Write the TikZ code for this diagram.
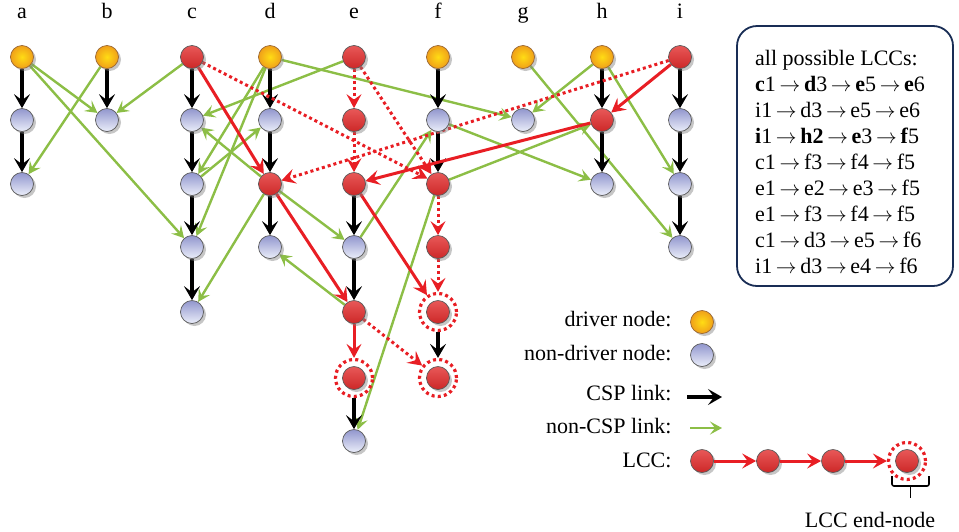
\documentclass[tikz,border=0pt]{standalone}
\usepackage{fontspec}
\setmainfont{Liberation Serif}
\usepackage{tikz}
\usetikzlibrary{arrows.meta,shapes,positioning,shadows,backgrounds}
\usepackage{xcolor}
\definecolor{lccred}{RGB}{232,30,36}
\definecolor{linkgreen}{RGB}{140,190,70}
\definecolor{boxnavy}{RGB}{25,45,85}
\definecolor{drvyellow}{RGB}{255,220,20}
\definecolor{drvorange}{RGB}{240,160,25}
\definecolor{plaintop}{RGB}{145,150,205}
\definecolor{plainbot}{RGB}{235,238,250}
\definecolor{lcctop}{RGB}{232,88,88}
\definecolor{lccbot}{RGB}{205,40,40}
\tikzstyle{bead} = [circle, minimum size=23pt, inner sep=0pt, draw=black!65, line width=0.7pt,
  drop shadow={shadow xshift=2.5pt, shadow yshift=-2.5pt, opacity=0.45}]
\tikzstyle{drivernode} = [bead, draw=brown!80!black, inner color=drvyellow, outer color=drvorange]
\tikzstyle{plainnode} = [bead, top color=plaintop, bottom color=plainbot]
\tikzstyle{lccnode} = [bead, top color=lcctop, bottom color=lccbot]
\tikzstyle{endring} = [circle, minimum size=37pt, inner sep=0pt, draw=lccred, line width=3.2pt, dash pattern=on 3pt off 3.2pt]
\tikzstyle{csp} = [line width=3.4pt, black, -{Stealth[length=14pt,width=16pt,inset=6pt]}]
\tikzstyle{noncsp} = [line width=2.4pt, linkgreen, -{Stealth[length=12pt,width=13pt,inset=5pt]}]
\tikzstyle{lcc} = [line width=3pt, lccred, -{Stealth[length=14pt,width=15pt,inset=5.5pt]}]
\tikzstyle{lccdots} = [lcc, dash pattern=on 3pt off 3pt]
\tikzstyle{lccbox} = [draw=boxnavy, line width=1.8pt, rounded corners=20pt, minimum width=216pt, minimum height=260pt]
\newcommand{\lto}{\,$\rightarrow$\,}

\begin{document}
\begin{tikzpicture}[x=1pt, y=-1pt, font=\fontsize{22}{26}\selectfont]
\useasboundingbox (0,0) rectangle (959,531);

% Column labels
\node[anchor=base] (la) at (22,18) {a};
\node[anchor=base] (lb) at (107,18) {b};
\node[anchor=base] (lc) at (192,18) {c};
\node[anchor=base] (ld) at (270,18) {d};
\node[anchor=base] (le) at (354,18) {e};
\node[anchor=base] (lf) at (438,18) {f};
\node[anchor=base] (lg) at (523,18) {g};
\node[anchor=base] (lh) at (602,18) {h};
\node[anchor=base] (li) at (680,18) {i};

% Driver nodes
\node[drivernode] (a1) at (22,57) {};
\node[drivernode] (b1) at (107,57) {};
\node[drivernode] (d1) at (270,57) {};
\node[drivernode] (f1) at (438,57) {};
\node[drivernode] (g1) at (523,57) {};
\node[drivernode] (h1) at (602,57) {};

% Nodes on LCCs
\node[lccnode] (c1) at (192,57) {};
\node[lccnode] (e1) at (354,57) {};
\node[lccnode] (i1) at (680,57) {};
\node[lccnode] (e2) at (354,120) {};
\node[lccnode] (h2) at (602,120) {};
\node[lccnode] (d3) at (270,184) {};
\node[lccnode] (e3) at (354,184) {};
\node[lccnode] (f3) at (438,184) {};
\node[lccnode] (f4) at (438,247) {};
\node[lccnode] (e5) at (354,312) {};
\node[lccnode] (f5) at (438,312) {};
\node[lccnode] (e6) at (354,378) {};
\node[lccnode] (f6) at (438,378) {};

% End-nodes
\node[endring] (e6r) at (e6) {};
\node[endring] (f5r) at (f5) {};
\node[endring] (f6r) at (f6) {};

% Non-driver nodes
\node[plainnode] (a2) at (22,120) {};
\node[plainnode] (a3) at (22,184) {};
\node[plainnode] (b2) at (107,120) {};
\node[plainnode] (c2) at (192,120) {};
\node[plainnode] (c3) at (192,184) {};
\node[plainnode] (c4) at (192,247) {};
\node[plainnode] (c5) at (192,312) {};
\node[plainnode] (d2) at (270,120) {};
\node[plainnode] (d4) at (270,247) {};
\node[plainnode] (e4) at (354,247) {};
\node[plainnode] (e7) at (354,441) {};
\node[plainnode] (f2) at (438,120) {};
\node[plainnode] (g2) at (523,120) {};
\node[plainnode] (h3) at (602,184) {};
\node[plainnode] (i2) at (680,120) {};
\node[plainnode] (i3) at (680,184) {};
\node[plainnode] (i4) at (680,247) {};

\begin{scope}[on background layer]
% non-CSP links
\draw[noncsp] (a1) -- (b2);
\draw[noncsp] (a1) -- (c4);
\draw[noncsp] (b1) -- (a3);
\draw[noncsp] (c1) -- (b2);
\draw[noncsp] (e1) -- (c2);
\draw[noncsp] (d1) -- (c3);
\draw[noncsp] (d1) -- (c4);
\draw[noncsp] (d1) -- (g2);
\draw[noncsp] (c3) -- (d2);
\draw[noncsp] (d3) -- (c2);
\draw[noncsp] (d3) -- (c5);
\draw[noncsp] (d3) -- (e4);
\draw[noncsp] (e5) -- (d4);
\draw[noncsp] (e4) -- (f2);
\draw[noncsp] (f2) -- (h3);
\draw[noncsp] (f3) -- (h2);
\draw[noncsp] (f3) -- (e7);
\draw[noncsp] (g1) -- (i4);
\draw[noncsp] (h1) -- (g2);
\draw[noncsp] (h1) -- (i3);

% CSP links
\draw[csp] (a1) -- (a2);
\draw[csp] (a2) -- (a3);
\draw[csp] (b1) -- (b2);
\draw[csp] (c1) -- (c2);
\draw[csp] (c2) -- (c3);
\draw[csp] (c3) -- (c4);
\draw[csp] (c4) -- (c5);
\draw[csp] (d1) -- (d2);
\draw[csp] (d2) -- (d3);
\draw[csp] (d3) -- (d4);
\draw[csp] (e3) -- (e4);
\draw[csp] (e4) -- (e5);
\draw[csp] (e6r) -- (e7);
\draw[csp] (f1) -- (f2);
\draw[csp] (f2) -- (f3);
\draw[csp] (f5r) -- (f6r);
\draw[csp] (h1) -- (h2);
\draw[csp] (h2) -- (h3);
\draw[csp] (i1) -- (i2);
\draw[csp] (i2) -- (i3);
\draw[csp] (i3) -- (i4);

% LCC links
\draw[lccdots] (c1) -- (f3);
\draw[lccdots] (e1) -- (f3);
\draw[lccdots] (e1) -- (e2);
\draw[lccdots] (e2) -- (e3);
\draw[lccdots] (f3) -- (f4);
\draw[lccdots] (f4) -- (f5r);
\draw[lccdots] (e5) -- (f6r);
\draw[lccdots] (i1) -- (d3);
\draw[lcc] (c1) -- (d3);
\draw[lcc] (d3) -- (e5);
\draw[lcc] (e5) -- (e6r);
\draw[lcc] (i1) -- (h2);
\draw[lcc] (h2) -- (e3);
\draw[lcc] (e3) -- (f5r);
\end{scope}

% List of LCCs
\node[lccbox] (lccs) at (845,156) {};
\node[anchor=north west, inner sep=0pt, align=left] (lcclist) at (755,50) {all possible LCCs:\\
\textbf{c}1\lto\textbf{d}3\lto\textbf{e}5\lto\textbf{e}6\\
i1\lto d3\lto e5\lto e6\\
\textbf{i}1\lto\textbf{h2}\lto\textbf{e}3\lto\textbf{f}5\\
c1\lto f3\lto f4\lto f5\\
e1\lto e2\lto e3\lto f5\\
e1\lto f3\lto f4\lto f5\\
c1\lto d3\lto e5\lto f6\\
i1\lto d3\lto e4\lto f6};

% Legend
\node[anchor=base east] (kdrivertxt) at (675,326) {driver node:};
\node[drivernode] (kdriver) at (702,322) {};
\node[anchor=base east] (kplaintxt) at (675,360) {non-driver node:};
\node[plainnode] (kplain) at (702,355) {};
\node[anchor=base east] (kcsptxt) at (675,400) {CSP link:};
\coordinate (kcspa) at (687,397);
\coordinate (kcspb) at (722,397);
\draw[csp] (kcspa) -- (kcspb);
\node[anchor=base east] (knoncsptxt) at (675,433) {non-CSP link:};
\coordinate (knoncspa) at (690,428);
\coordinate (knoncspb) at (722,428);
\draw[noncsp] (knoncspa) -- (knoncspb);
\node[anchor=base east] (klcctxt) at (675,467) {LCC:};
\node[lccnode] (kl1) at (702,461) {};
\node[lccnode] (kl2) at (768,461) {};
\node[lccnode] (kl3) at (833,461) {};
\node[lccnode] (kl4) at (907,461) {};
\node[endring] (kl4r) at (kl4) {};
\draw[lcc] (kl1) -- (kl2);
\draw[lcc] (kl2) -- (kl3);
\draw[lcc] (kl3) -- (kl4r);
\draw[line width=1.6pt, rounded corners=2pt] (892,476) -- (892,486) -- (929,486) -- (929,476);
\draw[line width=1.6pt] (910.5,486) -- (910.5,498);
\node (kendtxt) at (870,520) {LCC end-node};
\end{tikzpicture}
\end{document}
